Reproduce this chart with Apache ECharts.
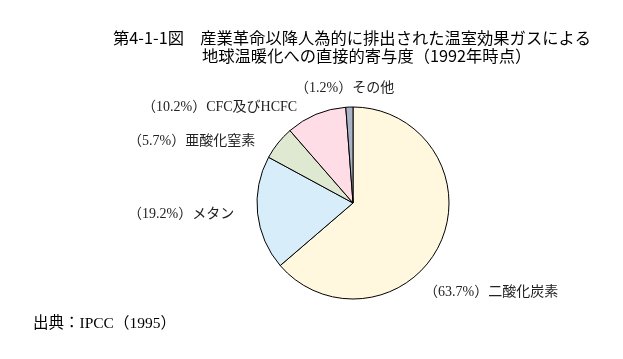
<!DOCTYPE html>
<html><head><meta charset="utf-8">
<script src="https://cdn.jsdelivr.net/npm/echarts@6/dist/echarts.min.js"></script>
<style>html,body{margin:0;padding:0;background:#fff}#c{width:623px;height:359px}</style>
</head><body><div id="c"></div>
<script>
const categories = ['二酸化炭素', 'メタン', '亜酸化窒素', 'CFC及びHCFC', 'その他'];
const values = [63.7, 19.2, 5.7, 10.2, 1.2];
const colors = ['#fff7de', '#d8edfa', '#dfe9d2', '#ffdde6', '#aab3c6'];
const labelPos = [
  {x: 424, y: 292}, {x: 128, y: 214}, {x: 128, y: 141}, {x: 142, y: 107}, {x: 295, y: 88}
];
const serif = '"Liberation Serif","Times New Roman","Noto Sans CJK JP",serif';
const sans = '"Noto Sans CJK JP","Noto Sans",sans-serif';
const chart = echarts.init(document.getElementById('c'), null, {renderer: 'canvas'});
chart.setOption({
  animation: false,
  title: [
    {text: '第4-1-1図　産業革命以降人為的に排出された温室効果ガスによる', left: 108, top: 25,
     textStyle: {fontFamily: sans, fontSize: 16.3, fontWeight: 'normal', color: '#000'}},
    {text: '地球温暖化への直接的寄与度（1992年時点）', left: 197, top: 43,
     textStyle: {fontFamily: sans, fontSize: 16.3, fontWeight: 'normal', color: '#000'}},
    {text: '出典：IPCC（1995）', left: 28, top: 311,
     textStyle: {fontFamily: serif, fontSize: 15.5, fontWeight: 'normal', color: '#000'}}
  ],
  series: [{
    type: 'pie',
    center: [353, 203],
    radius: [0, 96],
    startAngle: 90,
    clockwise: true,
    avoidLabelOverlap: false,
    data: categories.map((n, i) => ({name: n, value: values[i], itemStyle: {color: colors[i]}})),
    itemStyle: {borderColor: '#000', borderWidth: 1},
    label: {
      show: true, position: 'outside',
      formatter: p => '（' + p.value.toFixed(1) + '%）' + p.name,
      fontFamily: serif, fontSize: 14, color: '#222'
    },
    labelLine: {show: false},
    labelLayout: p => ({x: labelPos[p.dataIndex].x, y: labelPos[p.dataIndex].y, align: 'left', verticalAlign: 'middle'}),
    emphasis: {disabled: true}
  }]
});
</script></body></html>
